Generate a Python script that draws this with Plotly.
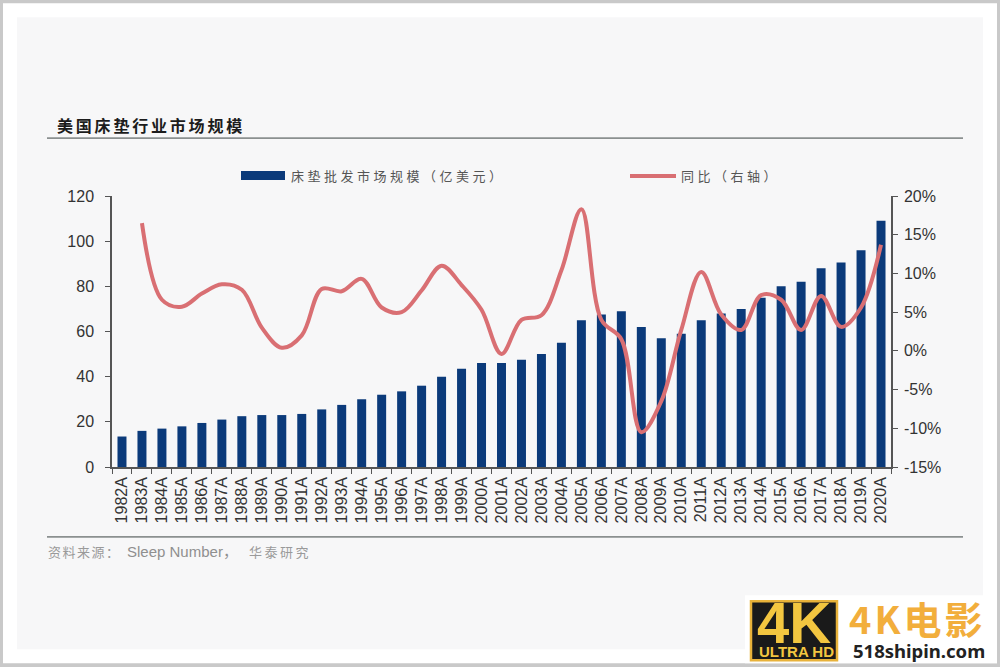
import plotly.graph_objects as go

years = [f"{y}A" for y in range(1982, 2021)]
market_size = [13.5, 16, 17, 18, 19.5, 21, 22.5, 23, 23, 23.5, 25.5, 27.5, 30, 32, 33.5, 36, 40, 43.5, 46, 46,
               47.5, 50, 55, 65, 67.5, 69, 62, 57, 59, 65, 68, 70, 75, 80, 82, 88, 90.5, 96, 109]
yoy_pct = [None, 16.5, 6.6, 5.7, 7.4, 8.6, 7.9, 3.0, 0.4, 2.0, 8.0, 7.7, 9.3, 5.6, 5.0, 7.8, 11.0, 8.5, 5.3, -0.4,
           4.0, 4.6, 10.4, 18.3, 4.0, 1.5, -10.5, -6.5, 2.7, 10.2, 4.7, 2.7, 7.2, 6.6, 2.7, 7.1, 3.1, 5.6, 13.7]
left_ticks = [0, 20, 40, 60, 80, 100, 120]
right_ticks = [-15, -10, -5, 0, 5, 10, 15, 20]
right_labels = ["-15%", "-10%", "-5%", "0%", "5%", "10%", "15%", "20%"]

W, H = 1000, 667
ML, MR, MT, MB = 112, 109, 196, 199.5
PW, PH = W - ML - MR, H - MT - MB
NAVY = "#0b3a7a"
RED = "#d96f73"
CJK = "Noto Sans CJK SC"
LAT = "Liberation Sans"


def px(x):
    return (x - ML) / PW


def py(y):
    return (H - MB - y) / PH


def rect(x0, y0, x1, y1, fill, line=None, lw=0, layer="below"):
    return dict(type="rect", xref="paper", yref="paper", x0=px(x0), x1=px(x1), y0=py(y0), y1=py(y1),
                fillcolor=fill, line=dict(color=line or fill, width=lw), layer=layer)


def hline(x0, x1, y, color, lw, layer="below"):
    return dict(type="line", xref="paper", yref="paper", x0=px(x0), x1=px(x1), y0=py(y), y1=py(y),
                line=dict(color=color, width=lw), layer=layer)


def label(x, y, text, size, color, font=CJK, anchor="left", spacing=None):
    if spacing:
        text = f'<span style="letter-spacing:{spacing}px">{text}</span>'
    return dict(xref="paper", yref="paper", x=px(x), y=py(y), text=text, showarrow=False, xanchor=anchor,
                yanchor="middle", font=dict(size=size, color=color, family=font), borderpad=0, borderwidth=0)


fig = go.Figure()
fig.add_trace(go.Bar(x=years, y=market_size, name="床垫批发市场规模（亿美元）", marker=dict(color=NAVY, line=dict(width=0)),
                     yaxis="y"))
fig.add_trace(go.Scatter(x=years, y=yoy_pct, name="同比（右轴）", mode="lines", yaxis="y2",
                         line=dict(color=RED, width=4, shape="spline", smoothing=1.0), connectgaps=False))

shapes = [
    rect(0, 0, 1000, 667, "#ffffff", "#c9c9c9", 6),
    rect(17, 17, 983, 650, "#f7f7f8"),
    hline(47, 963, 138, "#8b9090", 1.6),
    hline(47, 963, 537.5, "#8b9090", 1.6),
    rect(241, 171, 285, 180, NAVY),
    hline(630, 676, 176, RED, 4),
    # watermark
    rect(745, 596, 997, 664, "#ffffff"),
    dict(type="rect", xref="paper", yref="paper", x0=px(751), x1=px(837), y0=py(602), y1=py(661),
         fillcolor="#1a1a1a", line=dict(color="#e8b23a", width=2.5), layer="below"),
]

annotations = [
    label(57, 125, "<b>美国床垫行业市场规模</b>", 16, "#1c1c1c", spacing=2.8),
    label(291, 175, "床垫批发市场规模（亿美元）", 13, "#555555", spacing=3.5),
    label(681, 175, "同比（右轴）", 13, "#555555", spacing=3.5),
    label(48, 552, "资料来源：", 13, "#9a9a9a", spacing=1.5),
    label(127, 552, "Sleep Number，", 15, "#8f8f8f", font=LAT + ", " + CJK),
    label(249, 552, "华泰研究", 13, "#9a9a9a", spacing=2.5),
    label(794, 623, "<b>4K</b>", 58, "#f3c640", font=LAT, anchor="center"),
    label(796, 652, "<b>ULTRA HD</b>", 15, "#f3c640", font=LAT, anchor="center"),
    label(849, 618, "<b>4K电影</b>", 38, "#f2ae3c", spacing=3),
    label(853, 651, "<b>518shipin.com</b>", 18.5, "#222222", font="Noto Sans"),
]

axis_color = "#555555"
fig.update_layout(
    width=W, height=H,
    margin=dict(l=ML, r=MR, t=MT, b=MB, pad=0),
    paper_bgcolor="#ffffff", plot_bgcolor="rgba(0,0,0,0)",
    showlegend=False, bargap=0.55,
    font=dict(family=LAT, size=16, color="#333333"),
    shapes=shapes, annotations=annotations,
    xaxis=dict(type="category", tickangle=-90, tickfont=dict(size=16, color="#333333", family=LAT),
               ticks="outside", ticklen=5, tickcolor=axis_color, tickwidth=1, tickson="boundaries",
               ticklabelstandoff=2,
               showline=True, linecolor=axis_color, linewidth=1.5, showgrid=False, zeroline=False),
    yaxis=dict(range=[0, 120], tickvals=left_ticks, ticks="outside", ticklen=5, tickcolor=axis_color,
               ticklabelstandoff=8,
               showline=True, linecolor=axis_color, linewidth=1.5, showgrid=False, zeroline=False,
               tickfont=dict(size=16, color="#333333", family=LAT)),
    yaxis2=dict(range=[-15, 20], overlaying="y", side="right", tickvals=right_ticks, ticktext=right_labels,
                ticks="outside", ticklen=5, tickcolor=axis_color, showline=True, linecolor=axis_color,
                ticklabelstandoff=3,
                linewidth=1.5, showgrid=False, zeroline=False,
                tickfont=dict(size=16, color="#333333", family=LAT)),
)

fig.write_html("out.html", config=dict(displayModeBar=False),
               post_script="document.body.style.margin='0';")
